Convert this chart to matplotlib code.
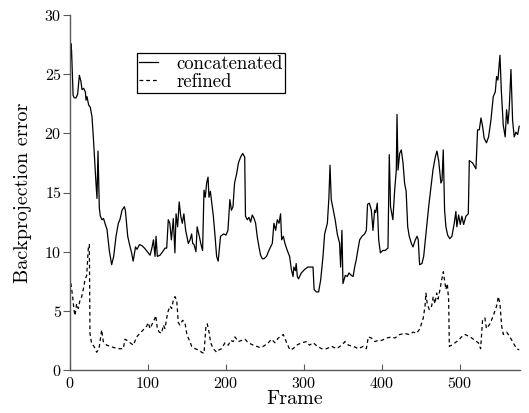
import matplotlib
matplotlib.use("Agg")
import matplotlib.pyplot as plt

plt.rcParams['font.family'] = 'serif'
plt.rcParams['font.serif'] = ['cmr10']
plt.rcParams['mathtext.fontset'] = 'cm'
plt.rcParams['axes.formatter.use_mathtext'] = True

# concatenated: (frame, error)
conc_frame = [0, 1, 2, 3, 4, 5.5, 7.7, 9.8, 12, 14, 15.4, 17.5, 19.7, 20.5, 21.8, 23.9,
              26, 28.2, 29.9, 31.6, 33.3, 34.6, 35.9, 37.6, 38.9, 41, 43, 45.3, 47.4,
              50.4, 53.4, 56, 59, 62, 64, 66.7, 69.7, 71, 74, 76, 79, 81, 84, 86, 89,
              92.5, 95.5, 98, 102.6, 105, 107, 109, 110.3, 112, 115.4, 118.8, 121.8,
              124, 126, 128, 130, 132.5, 134.5, 136, 138, 140, 142, 144, 146, 148.3,
              151.7, 154, 156, 157.3, 159, 161.5, 163, 165.8, 168, 170, 171.8, 173.5,
              175.2, 177, 178.2, 180, 181.6, 183.8, 186, 188, 190, 193, 197, 200,
              202.5, 205, 207, 209, 211, 213.7, 216, 218.8, 221.4, 224, 225, 227.3,
              229.5, 231.6, 233.7, 236, 238, 240, 242.3, 244.4, 246.6, 248.7, 252,
              255, 259.4, 261.5, 263.7, 265.8, 268, 270, 271.4, 273.5, 275.6, 278.6,
              281.6, 283.8, 286, 287, 289, 290, 291.5, 293, 296.6, 300.9, 305, 311.6,
              313, 315.8, 318.8, 321.4, 324.4, 326.5, 330, 332, 333.4, 335, 337.6,
              340, 342.7, 345.7, 347, 348.7, 350, 353, 355.5, 357.7, 360.7, 363, 365,
              367, 369, 371.4, 374.4, 377.8, 380, 381.5, 383.8, 386.4, 388.5, 390.6,
              392, 394, 395.8, 398, 401, 404, 407.7, 409.4, 411, 414, 416.3, 418.4,
              419.3, 420.6, 422.7, 424.8, 427, 429, 431, 433, 435, 437.7, 439.8,
              442.8, 445, 446.5, 448.3, 451.3, 453.5, 455.6, 457.7, 459.9, 462.9,
              465.4, 468.4, 470.5, 472.7, 474.4, 475.6, 477, 478.6, 480.3, 482, 484.2,
              487, 489.7, 492.7, 494.8, 496, 498.3, 500.4, 502.5, 504.7, 507.7, 510.7,
              512, 516.2, 520.5, 522.6, 524.8, 527, 529, 531, 534, 536.7, 539.7, 542.7,
              545.3, 547, 548.7, 551.3, 553, 555.5, 558, 559.8, 561.5, 563.2, 565.4,
              567.5, 569.6, 571.8, 574, 576]
conc_err = [24.5, 27.6, 27.0, 25.0, 23.2, 23.0, 23.0, 23.3, 24.9, 24.4, 23.7, 23.8, 23.5,
            22.8, 23.1, 22.4, 22.2, 21.4, 19.7, 17.7, 15.8, 14.5, 18.5, 13.7, 13.0, 12.7,
            12.8, 12.3, 11.9, 10.1, 8.9, 9.6, 11.3, 12.4, 12.7, 13.5, 13.8, 13.5, 11.3,
            10.7, 9.9, 9.2, 10.4, 10.2, 10.6, 10.5, 10.3, 10.1, 9.7, 10.3, 11.0, 9.6,
            11.3, 9.6, 9.7, 10.0, 10.3, 10.3, 12.7, 12.4, 11.0, 12.8, 9.9, 13.2, 12.1,
            14.2, 13.0, 12.4, 13.2, 11.8, 10.7, 11.0, 11.5, 10.7, 10.6, 10.0, 12.1,
            11.3, 10.6, 10.1, 15.2, 14.6, 15.8, 16.3, 14.6, 15.1, 14.2, 13.0, 11.3, 9.6,
            9.2, 11.3, 11.5, 11.4, 11.8, 14.4, 13.5, 13.8, 15.8, 16.6, 17.5, 18.0, 18.3,
            18.0, 13.0, 12.7, 12.9, 12.5, 13.1, 12.8, 12.4, 11.3, 10.4, 9.7, 9.4, 9.4,
            9.6, 10.1, 10.7, 12.4, 11.8, 12.7, 12.4, 13.2, 11.0, 11.3, 10.7, 10.1, 9.6,
            8.5, 7.9, 8.7, 8.4, 9.0, 7.9, 7.7, 8.2, 8.5, 8.7, 8.7, 6.8, 6.6, 6.6, 7.6,
            9.6, 11.5, 12.4, 14.6, 17.3, 14.4, 13.5, 12.7, 11.5, 10.7, 8.7, 11.8, 7.3,
            8.0, 7.9, 8.2, 8.0, 7.9, 8.7, 9.3, 10.1, 11.0, 11.3, 11.5, 11.8, 14.0, 14.1,
            13.5, 11.8, 13.5, 13.3, 14.1, 11.0, 9.9, 10.1, 10.1, 10.3, 18.2, 13.8, 12.7,
            15.2, 16.9, 21.6, 16.9, 18.3, 18.6, 17.5, 15.8, 15.1, 12.1, 11.3, 10.7,
            10.4, 11.0, 11.3, 11.0, 8.9, 9.0, 9.6, 11.0, 12.4, 13.8, 15.5, 16.9, 18.0,
            18.5, 17.7, 16.6, 15.8, 16.0, 18.6, 13.5, 12.1, 11.4, 11.1, 11.3, 12.4,
            13.4, 12.1, 13.1, 12.3, 13.0, 12.3, 13.0, 13.2, 17.7, 17.5, 17.0, 20.3,
            20.3, 21.3, 20.6, 19.6, 19.2, 19.7, 21.1, 23.1, 23.5, 24.8, 24.5, 26.6,
            23.7, 20.7, 19.7, 22.0, 20.8, 22.1, 25.4, 21.1, 19.7, 20.1, 19.9, 20.6]

# refined: (frame, error)
ref_frame = [0, 3.4, 5.1, 6.4, 8.5, 10.7, 12.8, 15, 17, 19.2, 21.4, 23.5, 24.8, 25.6,
             27.8, 30.8, 34.2, 37.2, 40.6, 42.7, 47, 51.3, 56, 62, 68.4, 70.5, 73, 77,
             81.2, 85.5, 89.7, 94, 98.3, 100.4, 102.6, 104.7, 106.8, 109, 110, 112,
             114.5, 117.5, 119.7, 121.8, 124, 126, 128.2, 130.3, 132.5, 134.6, 136.8,
             138.9, 141, 144.4, 147.4, 149.6, 151.7, 153.8, 156, 160.3, 164.5, 168.8,
             171.8, 174.3, 176, 178.6, 180.3, 183.8, 188, 191, 194.4, 198.7, 203, 206,
             209.4, 211.5, 215.8, 220, 224.4, 228.6, 235, 239.3, 243.6, 248, 254.3,
             258.5, 262.8, 267, 273.5, 277.8, 282, 286, 290.6, 297, 303.4, 307, 312,
             317, 322.7, 329, 335.5, 341.9, 348.3, 352.6, 357, 363.3, 369.7, 376, 380,
             382.5, 386.5, 391, 395, 399.6, 406, 412.4, 416.5, 423, 429.5, 434, 440.2,
             444.5, 448.7, 453, 455.2, 456.4, 458, 460.7, 463.7, 465.8, 468, 470.1, 472,
             474.4, 476.5, 478.7, 480, 482, 483.8, 485.5, 486.4, 489.4, 493.6, 497.9,
             502, 506.5, 513, 519.3, 523.6, 526.5, 529, 532, 534, 538.5, 542.8, 547,
             549.2, 551.3, 553.5, 555.6, 559.9, 564, 568.4, 572.7, 576]
ref_err = [7.9, 6.2, 5.1, 4.6, 5.6, 5.2, 5.9, 6.2, 6.8, 7.6, 8.0, 10.3, 10.6, 3.1, 2.2,
           2.0, 1.5, 1.8, 3.4, 2.4, 2.1, 2.0, 1.9, 1.8, 1.8, 2.6, 2.5, 2.3, 2.1, 2.8, 3.1,
           3.4, 3.7, 4.0, 3.5, 3.8, 4.1, 4.4, 4.6, 3.5, 3.2, 3.1, 3.8, 3.5, 4.4, 5.0, 5.4,
           5.2, 5.9, 6.2, 5.9, 4.0, 3.8, 4.2, 4.0, 3.1, 2.7, 2.4, 2.0, 1.8, 1.7, 1.5, 1.4,
           3.7, 3.9, 3.1, 2.3, 1.8, 1.5, 1.7, 1.8, 2.3, 2.1, 2.5, 2.4, 2.8, 2.4, 2.5, 2.6,
           2.3, 2.1, 2.0, 1.9, 2.0, 2.3, 2.6, 2.3, 2.7, 3.0, 2.3, 1.7, 1.8, 2.1, 2.3, 2.4,
           2.1, 2.3, 2.0, 1.8, 1.8, 2.0, 1.8, 2.1, 2.4, 2.1, 2.0, 1.8, 2.0, 1.8, 2.8, 2.7,
           2.4, 2.5, 2.5, 2.7, 2.8, 2.7, 3.0, 3.1, 3.0, 3.2, 3.1, 3.5, 4.4, 5.4, 6.5, 5.6,
           5.1, 5.4, 6.2, 5.6, 6.5, 6.0, 6.8, 7.6, 8.3, 7.7, 6.8, 7.3, 5.9, 2.0, 2.1, 2.3,
           2.5, 2.8, 3.0, 2.8, 2.5, 2.3, 1.8, 4.2, 4.4, 3.5, 3.9, 4.6, 5.4, 6.2, 5.6, 3.7,
           3.0, 3.2, 2.8, 2.3, 1.8, 1.7]

fig = plt.figure(figsize=(5.29, 4.13), dpi=100)
ax = fig.add_axes([70 / 529, 1 - 370 / 413, 450 / 529, 355 / 413])

ax.plot(conc_frame, conc_err, color='black', lw=0.9, label='concatenated')
ax.plot(ref_frame, ref_err, color='black', lw=0.9, dashes=(3, 2.4), label='refined')

ax.set_xlim(0, 577)
ax.set_ylim(0, 30)
ax.set_xticks([0, 100, 200, 300, 400, 500])
ax.set_yticks([0, 5, 10, 15, 20, 25, 30])

for s in ['top', 'right']:
    ax.spines[s].set_visible(False)
for s in ['left', 'bottom']:
    ax.spines[s].set_color('0.35')
    ax.spines[s].set_linewidth(1.0)

ax.tick_params(axis='x', direction='in', length=4, width=0.8, color='0.35',
               labelsize=11.5, pad=4)
ax.tick_params(axis='y', direction='out', length=5, width=0.8, color='0.35',
               labelsize=11.5, pad=1)

ax.set_xlabel('Frame', fontsize=14.5, labelpad=0)
ax.set_ylabel('Backprojection error', fontsize=14.5, labelpad=9)

leg = ax.legend(loc='upper left', bbox_to_anchor=(67 / 450, 317 / 355),
                borderaxespad=0, fontsize=13.5, fancybox=False, framealpha=1,
                edgecolor='black', handlelength=1.0, handletextpad=1.0,
                labelspacing=0.0, borderpad=0.1)
leg.get_frame().set_linewidth(0.9)

fig.savefig('out.png', dpi=100)
